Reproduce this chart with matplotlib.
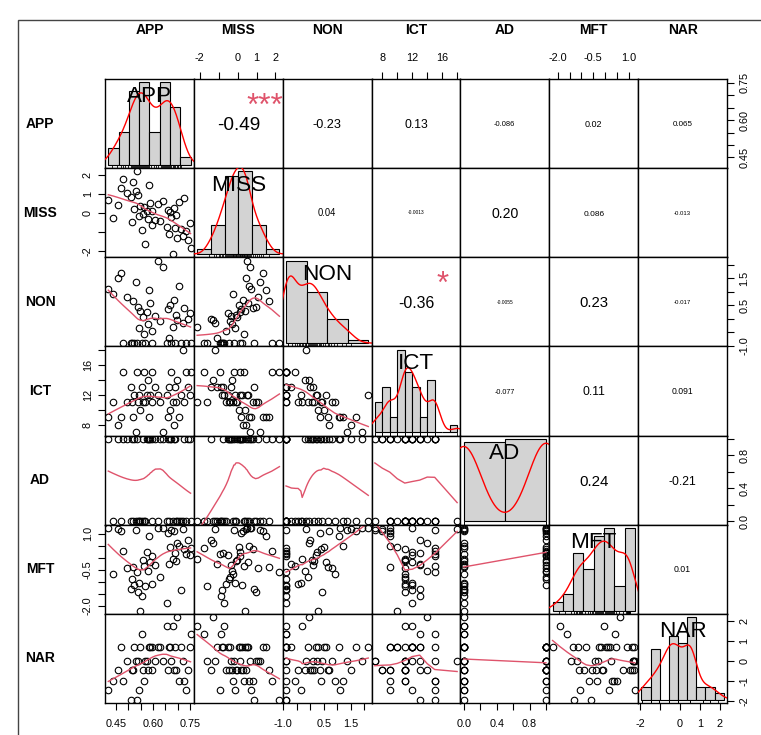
import numpy as np
import matplotlib
matplotlib.use("Agg")
import matplotlib.pyplot as plt
from matplotlib.patches import Rectangle

plt.rcParams['font.family'] = ['Liberation Sans', 'DejaVu Sans']

# ---------------------------------------------------------------- data
names = ["APP", "MISS", "NON", "ICT", "AD", "MFT", "NAR"]

APP = [0.420, 0.440, 0.460, 0.470, 0.480, 0.495, 0.510, 0.515, 0.520, 0.525,
       0.530, 0.535, 0.540, 0.545, 0.548, 0.555, 0.560, 0.565, 0.570, 0.575,
       0.580, 0.585, 0.590, 0.595, 0.598, 0.610, 0.620, 0.630, 0.640, 0.655,
       0.660, 0.665, 0.670, 0.675, 0.680, 0.685, 0.690, 0.695, 0.698, 0.705,
       0.715, 0.720, 0.725, 0.735, 0.740, 0.748, 0.752]
MISS = [0.70, -0.25, 0.45, 1.35, 1.80, 1.10, 0.85, -0.45, 1.65, 0.25,
        1.20, 2.21, 0.95, -0.15, 0.40, -0.90, -0.05, 0.35, -1.60, 0.15,
        -0.30, 1.50, 0.55, -0.60, 0.10, -0.35, 0.50, -0.40, 0.65, -0.70,
        0.20, -1.10, 0.05, -0.20, -2.14, 0.30, -0.75, -0.10, -1.30, 0.60,
        -0.80, -1.20, 0.80, -0.95, -1.40, -0.50, -1.80]
NON = [1.10, 0.90, 1.50, 1.70, -0.90, 0.80, -0.90, -0.90, 0.65, -0.90,
       1.35, -0.90, 0.45, -0.35, 0.30, -0.90, 0.05, -0.55, -0.90, 0.25,
       -0.20, 1.05, 0.60, -0.45, -0.90, 0.10, 2.15, -0.10, 1.90, -0.90,
       0.35, -0.70, 0.50, -0.90, -0.30, 0.70, -0.90, 0.15, -0.05, 1.20,
       -0.90, -0.15, 0.40, -0.90, -0.02, 0.20, -0.90]
ICT = [9, 11, 8, 9, 15, 11, 13, 11, 9, 12,
       7, 15, 11, 12, 10, 13, 11, 15, 11, 12,
       14, 9, 12, 11, 15, 13, 12, 11, 7, 12,
       9, 13, 10, 15, 11, 8, 13, 11, 14, 9,
       12, 18, 11, 15, 13, 12, 15]
AD = [1, 0, 1, 0, 1, 1, 0, 1, 0, 1,
      0, 1, 0, 0, 0, 0, 1, 0, 0, 1,
      1, 1, 1, 0, 1, 1, 0, 1, 1, 0,
      1, 0, 1, 1, 0, 1, 1, 0, 0, 0,
      0, 0, 1, 0, 1, 1, 0]
MFT = [1.24, -0.70, 1.20, 1.10, 0.30, -0.45, -1.30, -0.90, -0.40, -1.15,
       1.15, -0.60, -1.45, -1.05, -2.21, -1.60, -0.10, -0.35, -1.20, 0.25,
       -0.55, 0.90, -0.20, -1.10, 0.05, -0.30, 1.22, -0.80, 1.24, -1.90,
       1.05, -0.25, 0.45, 1.15, -0.05, 1.10, 0.20, -0.15, 0.60, 0.48,
       -1.35, 1.20, 0.35, 0.15, 0.75, 0.10, 0.40]
NAR = [-1.48, -1.02, -0.48, 0.68, -1.02, 0.02, -1.95, -0.48, -0.48, 0.68,
       0.02, -1.95, 0.02, -1.48, 0.68, 1.36, -0.48, -1.02, 0.02, 0.02,
       -0.48, 0.68, 0.68, -0.48, 0.68, 0.02, 0.68, 0.68, 0.02, 1.75,
       -0.48, 0.68, 0.68, 0.02, 1.75, -0.48, 0.68, -0.48, 2.20, -1.02,
       0.68, 0.02, -1.02, -1.48, -0.48, 0.68, 1.36]

columns = [APP, MISS, NON, ICT, AD, MFT, NAR]

# Pearson correlations shown in the upper triangle (row, column)
corr_upper = [
    [None, -0.49, -0.23, 0.13, -0.086, 0.02, 0.065],
    [None, None, 0.04, -0.0013, 0.20, 0.086, -0.013],
    [None, None, None, -0.36, -0.0055, 0.23, -0.017],
    [None, None, None, None, -0.077, 0.11, 0.091],
    [None, None, None, None, None, 0.24, -0.21],
    [None, None, None, None, None, None, 0.01],
]
signif = {(0, 1): "***", (2, 3): "*"}

# histogram bin widths for the diagonal
hist_step = [0.05, 1.0, 1.0, 1.0, 0.5, 0.5, 0.5]

# axis ticks and the labels that are printed
axis_ticks = {
    "APP": [0.45, 0.50, 0.55, 0.60, 0.65, 0.70, 0.75],
    "MISS": [-2, -1, 0, 1, 2],
    "NON": [-1.0, -0.5, 0.0, 0.5, 1.0, 1.5, 2.0],
    "ICT": [8, 10, 12, 14, 16, 18],
    "AD": [0.0, 0.2, 0.4, 0.6, 0.8, 1.0],
    "MFT": [-2.0, -1.5, -1.0, -0.5, 0.0, 0.5, 1.0],
    "NAR": [-2, -1, 0, 1, 2],
}
axis_labels = {
    "APP": ["0.45", "", "", "0.60", "", "", "0.75"],
    "MISS": ["-2", "", "0", "1", "2"],
    "NON": ["-1.0", "", "", "0.5", "", "1.5", ""],
    "ICT": ["8", "", "12", "", "16", ""],
    "AD": ["0.0", "", "0.4", "", "0.8", ""],
    "MFT": ["-2.0", "", "", "-0.5", "", "", "1.0"],
    "NAR": ["-2", "", "0", "1", "2"],
}
axis_labels_right_nar = ["-2", "-1", "0", "1", "2"]

# ---------------------------------------------------------------- layout
W, H = 761, 735
GX0, GY0, GX1, GY1 = 105.0, 79.0, 727.0, 703.0
NV = len(names)
PW = (GX1 - GX0) / NV
PH = (GY1 - GY0) / NV
SMOOTH_COL = "#DF536B"
TICK_LEN = 4.8      # points
TICK_FS = 7.8
HEADER_Y = 30
ROWLAB_X = 40


def ext_range(v):
    lo, hi = float(np.min(v)), float(np.max(v))
    d = hi - lo
    return lo - 0.04 * d, hi + 0.04 * d


def r_lowest(x, y, n, xs, nleft, nright, w, userw, rw):
    rng = x[n] - x[1]
    h = max(xs - x[nleft], x[nright] - xs)
    h9, h1 = 0.999 * h, 0.001 * h
    a = 0.0
    j = nleft
    while j <= n:
        w[j] = 0.0
        r = abs(x[j] - xs)
        if r <= h9:
            w[j] = 1.0 if r <= h1 else (1.0 - (r / h) ** 3) ** 3
            if userw:
                w[j] *= rw[j]
            a += w[j]
        elif x[j] > xs:
            break
        j += 1
    nrt = j - 1
    if a <= 0.0:
        return 0.0, False
    for k in range(nleft, nrt + 1):
        w[k] /= a
    if h > 0.0:
        a = sum(w[k] * x[k] for k in range(nleft, nrt + 1))
        b = xs - a
        c = sum(w[k] * (x[k] - a) ** 2 for k in range(nleft, nrt + 1))
        if np.sqrt(c) > 0.001 * rng:
            b /= c
            for k in range(nleft, nrt + 1):
                w[k] *= (b * (x[k] - a) + 1.0)
    return sum(w[k] * y[k] for k in range(nleft, nrt + 1)), True


def r_lowess(xv, yv, f=2.0 / 3.0, nsteps=3):
    """Port of R's lowess() (clowess), as used by panel.smooth."""
    xv = np.asarray(xv, float)
    yv = np.asarray(yv, float)
    o = np.argsort(xv, kind="stable")
    xo, yo = xv[o], yv[o]
    n = len(xo)
    delta = 0.01 * (xo[-1] - xo[0])
    x = np.concatenate([[0.0], xo])
    y = np.concatenate([[0.0], yo])
    ys = np.zeros(n + 1)
    rw = np.zeros(n + 1)
    w = np.zeros(n + 1)
    ns = max(2, min(n, int(f * n + 1e-7)))
    it = 1
    while it <= nsteps + 1:
        nleft, nright, last, i = 1, ns, 0, 1
        while True:
            if nright < n:
                d1 = x[i] - x[nleft]
                d2 = x[nright + 1] - x[i]
                if d1 > d2:
                    nleft += 1
                    nright += 1
                    continue
            val, ok = r_lowest(x, y, n, x[i], nleft, nright, w, it > 1, rw)
            ys[i] = val if ok else y[i]
            if last < i - 1:
                denom = x[i] - x[last]
                for j in range(last + 1, i):
                    alpha = (x[j] - x[last]) / denom
                    ys[j] = alpha * ys[i] + (1.0 - alpha) * ys[last]
            last = i
            cut = x[last] + delta
            i = last + 1
            while i <= n:
                if x[i] > cut:
                    break
                if x[i] == x[last]:
                    ys[i] = ys[last]
                    last = i
                i += 1
            i = max(last + 1, i - 1)
            if last >= n:
                break
        res = y[1:] - ys[1:]
        sc = np.abs(res).sum() / n
        if it > nsteps:
            break
        ar = np.sort(np.abs(res))
        m1 = n // 2
        if n % 2 == 0:
            cmad = 3.0 * (ar[m1] + ar[n - m1 - 1])
        else:
            cmad = 6.0 * ar[m1]
        if cmad < 1e-7 * sc:
            break
        r = np.abs(res)
        rw[1:] = np.where(r <= 0.001 * cmad, 1.0,
                          np.where(r <= 0.999 * cmad, (1.0 - (r / cmad) ** 2) ** 2, 0.0))
        it += 1
    return xo, ys[1:]


def r_density(v):
    v = np.asarray(v, float)
    n = len(v)
    sd = v.std(ddof=1)
    q75, q25 = np.percentile(v, [75, 25])
    lo = min(sd, (q75 - q25) / 1.34)
    if lo <= 0:
        lo = sd
    bw = 0.9 * lo * n ** (-0.2)
    gx = np.linspace(v.min() - 3 * bw, v.max() + 3 * bw, 512)
    gy = np.exp(-0.5 * ((gx[:, None] - v[None, :]) / bw) ** 2).sum(1) / (n * bw * np.sqrt(2 * np.pi))
    return gx, gy


def r_hist(v, step):
    v = np.asarray(v, float)
    lo = np.floor(v.min() / step + 1e-9) * step
    hi = np.ceil(v.max() / step - 1e-9) * step
    nb = int(round((hi - lo) / step))
    br = lo + step * np.arange(nb + 1)
    idx = np.clip(np.searchsorted(br, v, side="left") - 1, 0, nb - 1)
    counts = np.bincount(idx, minlength=nb)
    return br, counts / (len(v) * step)


def fmt_r(r):
    d = max(2, 1 - int(np.floor(np.log10(abs(r)))))
    s = f"{r:.{d}f}".rstrip("0")
    dec = len(s.split(".")[1]) if "." in s else 0
    if dec < 2:
        s = f"{r:.2f}"
    return s


def rect_for(i, j):
    left = (GX0 + j * PW) / W
    bottom = 1 - (GY0 + (i + 1) * PH) / H
    return [left, bottom, PW / W, PH / H]


def style_frame(ax):
    ax.set_xticks([])
    ax.set_yticks([])
    for s in ax.spines.values():
        s.set_linewidth(1.0)
        s.set_color("black")


def add_axis(ax, side, var, labels=None):
    ticks = axis_ticks[var]
    labs = axis_labels[var] if labels is None else labels
    common = dict(direction="out", length=TICK_LEN, width=0.8, labelsize=TICK_FS,
                  colors="black")
    if side in ("top", "bottom"):
        ax.set_xticks(ticks)
        ax.set_xticklabels(labs)
        ax.tick_params(axis="x", top=(side == "top"), bottom=(side == "bottom"),
                       labeltop=(side == "top"), labelbottom=(side == "bottom"),
                       pad=6.5, **common)
    else:
        ax.set_yticks(ticks)
        ax.set_yticklabels(labs, rotation=90, va="center")
        ax.tick_params(axis="y", left=(side == "left"), right=(side == "right"),
                       labelleft=(side == "left"), labelright=(side == "right"),
                       pad=4.0, **common)


fig = plt.figure(figsize=(W / 100, H / 100), dpi=100)
renderer = fig.canvas.get_renderer()

# outer frame
fig.add_artist(Rectangle((18 / W, -0.01), 1.0, 1 - 20 / H + 0.01,
                         transform=fig.transFigure, fill=False,
                         edgecolor="#444444", linewidth=1.0))

for i in range(NV):
    for j in range(NV):
        ax = fig.add_axes(rect_for(i, j))
        style_frame(ax)
        ax.set_xlim(*ext_range(columns[j]))
        ax.set_ylim(*ext_range(columns[i]))

        # outer axes, alternating like pairs()
        if i == 0 and j % 2 == 1:
            add_axis(ax, "top", names[j])
        if i == NV - 1 and j % 2 == 0:
            add_axis(ax, "bottom", names[j])
        if j == 0 and i % 2 == 1:
            add_axis(ax, "left", names[i])
        if j == NV - 1 and i % 2 == 0:
            add_axis(ax, "right", names[i],
                     axis_labels_right_nar if names[i] == "NAR" else None)

        if i > j:
            # scatter with lowess smoother
            xv = np.asarray(columns[j], float)
            yv = np.asarray(columns[i], float)
            ax.plot(xv, yv, linestyle="none", marker="o", markersize=4.7,
                    markerfacecolor="none", markeredgecolor="black",
                    markeredgewidth=0.8)
            lx, ly = r_lowess(xv, yv)
            ax.plot(lx, ly, color=SMOOTH_COL, linewidth=1.0)
        elif i < j:
            r = corr_upper[i][j]
            txt = fmt_r(r)
            t = ax.text(0.5, 0.5, txt, transform=ax.transAxes, ha="center",
                        va="baseline", fontsize=10)
            wid = t.get_window_extent(renderer).width
            base = 10.0 * (0.8 * PW) / wid
            fs = base * (abs(r) + 0.3) / 1.3
            t.remove()
            ax.annotate(txt, (0.5, 0.5), xycoords="axes fraction",
                        xytext=(0, -0.358 * fs), textcoords="offset points",
                        ha="center", va="baseline", fontsize=fs, color="black")
            if (i, j) in signif:
                ax.annotate(signif[(i, j)], (0.8, 0.8), xycoords="axes fraction",
                            xytext=(0, -0.585 * base), textcoords="offset points",
                            ha="center", va="baseline", fontsize=base,
                            color=SMOOTH_COL)
        else:
            # histogram, density and rug on their own scale
            hx = fig.add_axes(rect_for(i, j))
            hx.set_axis_off()
            hx.patch.set_alpha(0)
            v = np.asarray(columns[i], float)
            br, dens = r_hist(v, hist_step[i])
            span = br[-1] - br[0]
            top = dens.max()
            hx.set_xlim(br[0] - 0.04 * span, br[-1] + 0.04 * span)
            hx.set_ylim(-0.04 * top, 1.04 * top)
            hx.bar(br[:-1], dens, width=np.diff(br), align="edge",
                   color="#D3D3D3", edgecolor="black", linewidth=0.8)
            gx, gy = r_density(v)
            hx.plot(gx, gy, color="red", linewidth=1.0)
            y0 = -0.04 * top
            rl = 0.03 * 1.08 * top
            for xv in v:
                hx.plot([xv, xv], [y0, y0 + rl], color="black", linewidth=0.6)
            hx.annotate(names[i], (0.5, 0.833), xycoords="axes fraction",
                        xytext=(0, -0.358 * 16.2), textcoords="offset points",
                        ha="center", va="baseline", fontsize=16.2, color="black")

# column headers and row labels
for k, nm in enumerate(names):
    fig.text((GX0 + (k + 0.5) * PW) / W, 1 - HEADER_Y / H, nm, ha="center",
             va="center", fontsize=10, fontweight="bold")
    fig.text(ROWLAB_X / W, 1 - (GY0 + (k + 0.5) * PH) / H, nm, ha="center",
             va="center", fontsize=10, fontweight="bold")

fig.savefig("out.png", dpi=100)
